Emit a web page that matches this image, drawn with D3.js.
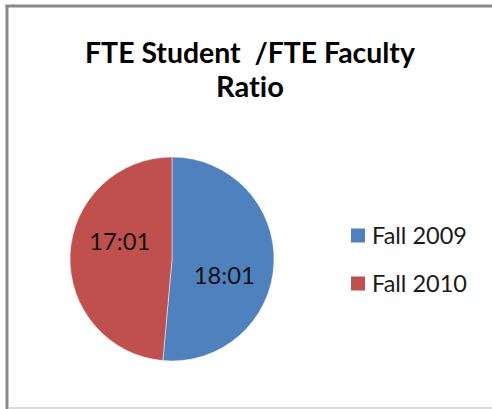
<!DOCTYPE html>
<html>
<head>
<meta charset="utf-8">
<script src="https://cdn.jsdelivr.net/npm/d3@7/dist/d3.min.js"></script>
<style>
  html, body { margin: 0; padding: 0; background: #fff; }
  svg { display: block; }
  text { font-family: Lato, "Open Sans", sans-serif; font-variant-ligatures: none; font-feature-settings: "liga" 0, "clig" 0; }
</style>
</head>
<body>
<svg id="chart" width="492" height="409"></svg>
<script>
// ---- data ----
const titleLines = ["FTE Student  /FTE Faculty", "Ratio"];
const categories = ["Fall 2009", "Fall 2010"];
const values = [18, 17];
const labels = ["18:01", "17:01"];
const colors = ["#4F81BD", "#C0504D"];

const svg = d3.select("#chart");
const W = 492, H = 409;

// chart-area border (clipped at right, like the reference screenshot)
svg.append("line").attr("x1", 7).attr("y1", 5).attr("x2", 7).attr("y2", 409)
  .attr("stroke", "#8a8a8a").attr("stroke-width", 3);
svg.append("line").attr("x1", 5.5).attr("y1", 6).attr("x2", 492).attr("y2", 6)
  .attr("stroke", "#8a8a8a").attr("stroke-width", 3);
svg.append("line").attr("x1", 8).attr("y1", 408).attr("x2", 492).attr("y2", 408)
  .attr("stroke", "#cfcfcf").attr("stroke-width", 1.5);

// helper: fit text to target width
function fit(sel, target) {
  const node = sel.node();
  const fs = parseFloat(sel.attr("font-size"));
  const w = node.getComputedTextLength();
  sel.attr("font-size", (fs * target / w).toFixed(2));
}

// title
const titleBase = [63, 97];
const titleWidths = [330, 68];
titleLines.forEach((t, i) => {
  const tx = svg.append("text")
    .attr("x", 250).attr("y", titleBase[i])
    .attr("text-anchor", "middle")
    .attr("font-weight", "bold")
    .attr("font-size", 28)
    .attr("fill", "#000")
    .attr("xml:space", "preserve")
    .style("white-space", "pre")
    .text(t);
  fit(tx, titleWidths[i]);
});

// pie
const cx = 172, cy = 259, r = 102;
const pie = d3.pie().sort(null).value(d => d)(values);
const arc = d3.arc().innerRadius(0).outerRadius(r);
const labelArc = d3.arc().innerRadius(55).outerRadius(55);
const g = svg.append("g").attr("transform", `translate(${cx},${cy})`);

g.selectAll("path").data(pie).join("path")
  .attr("d", arc)
  .attr("fill", (d, i) => colors[i])
  .attr("stroke", "#ffffff")
  .attr("stroke-opacity", 0.6)
  .attr("stroke-width", 0.8);

const shift = 0.27;
g.selectAll("text.lbl").data(pie).join("text")
  .attr("class", "lbl")
  .attr("transform", d => {
    const c = labelArc.centroid({startAngle: d.startAngle + shift, endAngle: d.endAngle + shift});
    return `translate(${c[0]},${c[1]})`;
  })
  .attr("text-anchor", "middle")
  .attr("dy", "0.35em")
  .attr("font-size", 24)
  .attr("fill", "#111")
  .text((d, i) => labels[i])
  .each(function() { fit(d3.select(this), 61); });

// legend
const legY = [236, 284];
const lg = svg.append("g");
categories.forEach((c, i) => {
  lg.append("rect")
    .attr("x", 351).attr("y", legY[i] - 7.5)
    .attr("width", 14).attr("height", 14)
    .attr("fill", colors[i]);
  const t = lg.append("text")
    .attr("x", 372).attr("y", legY[i] + 7.5)
    .attr("font-size", 22)
    .attr("fill", "#1a1a1a")
    .text(c);
  fit(t, 95);
});
</script>
</body>
</html>
